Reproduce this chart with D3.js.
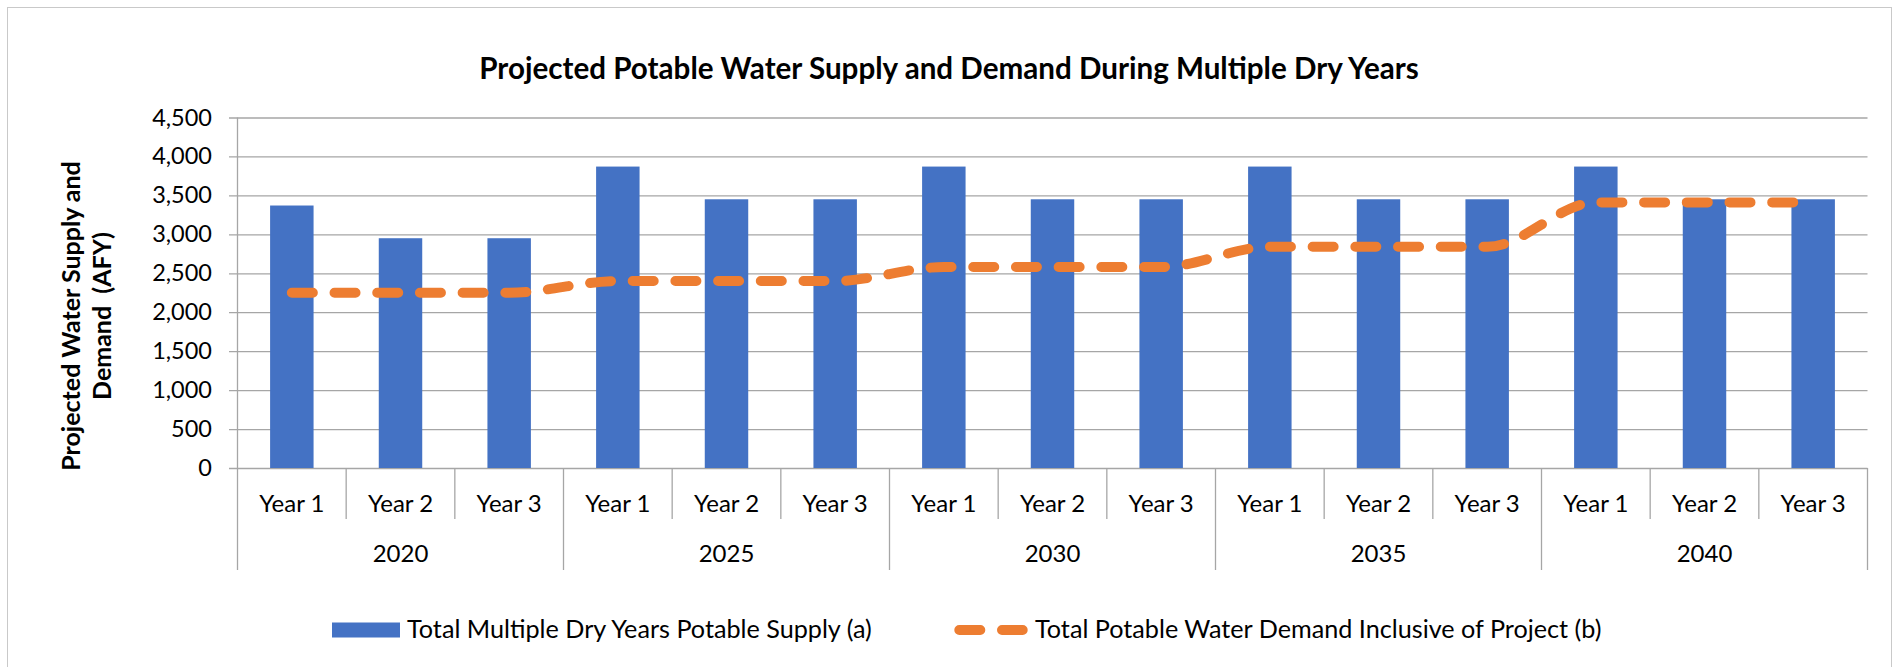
<!DOCTYPE html>
<html>
<head>
<meta charset="utf-8">
<script src="https://cdnjs.cloudflare.com/ajax/libs/d3/7.8.5/d3.min.js"></script>
<style>
  body { margin: 0; background: #fff; }
  text { font-family: Lato, "Open Sans", sans-serif; fill: #000; }
</style>
</head>
<body>
<script>
// Chart data
var periods = ['2020', '2025', '2030', '2035', '2040'];
var dryYears = ['Year 1', 'Year 2', 'Year 3'];
var supply = [3370, 2950, 2950, 3870, 3450, 3450, 3870, 3450, 3450, 3870, 3450, 3450, 3870, 3450, 3450];
var demand = [2250, 2250, 2250, 2400, 2400, 2400, 2580, 2580, 2580, 2840, 2840, 2840, 3410, 3410, 3410];
var yTicks = [0, 500, 1000, 1500, 2000, 2500, 3000, 3500, 4000, 4500];
var seriesNames = ['Total Multiple Dry Years Potable Supply (a)', 'Total Potable Water Demand Inclusive of Project (b)'];
var chartTitle = 'Projected Potable Water Supply and Demand During Multiple Dry Years';
var yTitle = ['Projected Water Supply and', 'Demand  (AFY)'];

var W = 1904, H = 667;
// plot box (note: "top" is taken by window.top, so use plot* names)
var plotLeft = 237.5, plotRight = 1867.5, plotTop = 117.5, plotBottom = 468;
var gridColor = '#a6a6a6';
var blue = '#4472C4', orange = '#ED7D31';

// one row per bar: period + dry year
var rows = [];
periods.forEach(function(p, i){
    dryYears.forEach(function(d, j){
        rows.push({ key: p + '|' + d, period: p, year: d, supply: supply[i*3+j], demand: demand[i*3+j] });
    });
});

var svg = d3.select('body').append('svg')
    .attr('width', W)
    .attr('height', H);

// outer chart border
svg.append('rect')
    .attr('x', 7.5).attr('y', 7.5)
    .attr('width', 1884).attr('height', 720)
    .attr('fill', 'none')
    .attr('stroke', '#c9c9c9');

var x = d3.scaleBand()
    .domain(rows.map(function(d){ return d.key; }))
    .range([plotLeft, plotRight])
    .paddingInner(0.6)
    .paddingOuter(0.3);

var y = d3.scaleLinear()
    .domain([0, 4500])
    .range([plotBottom, plotTop]);

var step = x.step();
function center(k){ return x(k) + x.bandwidth()/2; }
function edge(k){ return center(k) - step/2; }

// gridlines + y tick labels
var yAxis = svg.append('g')
    .attr('transform', 'translate(229,0)')
    .call(d3.axisLeft(y).tickValues(yTicks).tickSize(-(plotRight - 229)).tickPadding(17).tickFormat(d3.format(',')));
yAxis.select('.domain').remove();
yAxis.selectAll('line').attr('stroke', gridColor).attr('stroke-width', 1.3);
yAxis.selectAll('text').style('font-size', '23.5px').style('font-family', 'Lato, sans-serif').attr('fill', '#000');

// vertical axis line
svg.append('line')
    .attr('x1', plotLeft).attr('x2', plotLeft)
    .attr('y1', plotTop).attr('y2', plotBottom)
    .attr('stroke', gridColor).attr('stroke-width', 1.3);

// bars
svg.append('g').selectAll('rect')
    .data(rows)
    .enter().append('rect')
    .attr('x', function(d){ return x(d.key); })
    .attr('y', function(d){ return y(d.supply); })
    .attr('width', x.bandwidth())
    .attr('height', function(d){ return y(0) - y(d.supply); })
    .attr('fill', blue);

// demand line (smoothed, dashed)
var line = d3.line()
    .x(function(d){ return center(d.key); })
    .y(function(d){ return y(d.demand); })
    .curve(d3.curveMonotoneX);
svg.append('path')
    .datum(rows)
    .attr('d', line)
    .attr('fill', 'none')
    .attr('stroke', orange)
    .attr('stroke-width', 10)
    .attr('stroke-linecap', 'round')
    .attr('stroke-dasharray', '21,21.7');

// category separators under the axis
var xa = svg.append('g');
rows.forEach(function(d, i){
    var ex = edge(d.key);
    xa.append('line')
        .attr('x1', ex).attr('x2', ex)
        .attr('y1', plotBottom).attr('y2', i % 3 === 0 ? 570 : 519)
        .attr('stroke', gridColor).attr('stroke-width', 1.3);
});
xa.append('line')
    .attr('x1', plotRight).attr('x2', plotRight)
    .attr('y1', plotBottom).attr('y2', 570)
    .attr('stroke', gridColor).attr('stroke-width', 1.3);

// Year labels
xa.selectAll('text.yr')
    .data(rows)
    .enter().append('text')
    .attr('class', 'yr')
    .attr('x', function(d){ return center(d.key); })
    .attr('y', 512)
    .attr('text-anchor', 'middle')
    .style('font-size', '24px')
    .text(function(d){ return d.year; });

// period labels
xa.selectAll('text.pd')
    .data(periods)
    .enter().append('text')
    .attr('class', 'pd')
    .attr('x', function(p){ return (edge(p + '|Year 1') + edge(p + '|Year 3') + step) / 2; })
    .attr('y', 562)
    .attr('text-anchor', 'middle')
    .style('font-size', '24px')
    .text(function(p){ return p; });

// chart title
svg.append('text')
    .attr('x', 949).attr('y', 79)
    .attr('text-anchor', 'middle')
    .style('font-size', '29.6px')
    .style('font-weight', 'bold')
    .text(chartTitle);

// y axis title, two rotated lines
var yt = svg.append('text')
    .attr('transform', 'translate(0,316) rotate(-90)')
    .attr('text-anchor', 'middle')
    .style('font-size', '25px')
    .style('font-weight', 'bold');
yTitle.forEach(function(t, i){
    yt.append('tspan')
        .attr('x', 0)
        .attr('y', 80 + i*31)
        .style('white-space', 'pre')
        .text(t);
});

// legend
var lg = svg.append('g');
lg.append('rect')
    .attr('x', 332).attr('y', 622.5)
    .attr('width', 68).attr('height', 15)
    .attr('fill', blue);
lg.append('text')
    .attr('x', 407).attr('y', 638)
    .style('font-size', '25.2px')
    .text(seriesNames[0]);
lg.append('line')
    .attr('x1', 959.3).attr('x2', 1022.7)
    .attr('y1', 630).attr('y2', 630)
    .attr('stroke', orange)
    .attr('stroke-width', 10)
    .attr('stroke-linecap', 'round')
    .attr('stroke-dasharray', '21,21.7');
lg.append('text')
    .attr('x', 1035).attr('y', 638)
    .style('font-size', '25.2px')
    .text(seriesNames[1]);
</script>
</body>
</html>
